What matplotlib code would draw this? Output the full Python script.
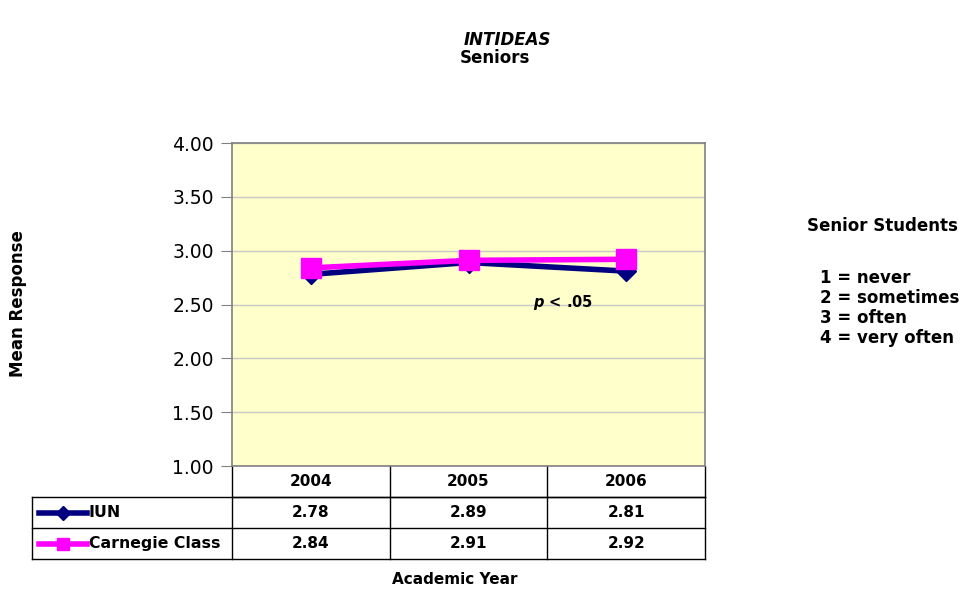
import numpy as np
import matplotlib
matplotlib.use("Agg")
import matplotlib.pyplot as plt
from matplotlib.lines import Line2D
from matplotlib.transforms import blended_transform_factory

years = ["2004", "2005", "2006"]
iun = [2.78, 2.89, 2.81]
carnegie = [2.84, 2.91, 2.92]
series_names = ["IUN", "Carnegie Class"]
yticks = [1.00, 1.50, 2.00, 2.50, 3.00, 3.50, 4.00]
scale_lines = ["1 = never", "2 = sometimes", "3 = often", "4 = very often"]

navy = "#000080"
magenta = "#FF00FF"
font = "DejaVu Sans"

W, H = 966, 589
fig = plt.figure(figsize=(W / 100, H / 100), dpi=100)
fig.patch.set_facecolor("white")

# plot area in pixels
L, R, T, B = 232, 705, 143, 466
ax = fig.add_axes([L / W, 1 - B / H, (R - L) / W, (B - T) / H])
ax.set_facecolor("#FFFFCC")
ax.set_xlim(-0.5, 2.5)
ax.set_ylim(1, 4)
ax.set_yticks(yticks)
ax.set_yticklabels(["%.2f" % v for v in yticks], fontsize=13.5, family=font)
ax.set_xticks([])
ax.grid(axis="y", color="#c8c8c8", lw=1)
ax.set_axisbelow(True)
for s in ax.spines.values():
    s.set_color("#808080")
    s.set_linewidth(1.2)
ax.tick_params(axis="y", length=8, color="#808080", pad=5)

x = np.arange(len(years))
ax.plot(x, iun, color=navy, lw=4, marker="D", ms=10, zorder=3)
ax.plot(x, carnegie, color=magenta, lw=4, marker="s", ms=14, zorder=4)

ax.text(1.6, 2.52, r"$\bfit{p}$ < .05", fontsize=10.5, fontweight="bold",
        family=font, ha="center", va="center")

# data table under the plot
tr = blended_transform_factory(ax.transData, ax.transAxes)
unit = (R - L) / 3.0
xl = -0.5 - (L - 32) / unit
rh = 31 / (B - T)
kw = dict(transform=tr, color="black", lw=1, clip_on=False)
ax.add_line(Line2D([-0.5, 2.5], [-rh, -rh], **kw))
ax.add_line(Line2D([xl, 2.5], [-rh, -rh], **kw))
ax.add_line(Line2D([xl, 2.5], [-2 * rh, -2 * rh], **kw))
ax.add_line(Line2D([xl, 2.5], [-3 * rh, -3 * rh], **kw))
ax.add_line(Line2D([xl, xl], [-rh, -3 * rh], **kw))
for xv in [-0.5, 0.5, 1.5, 2.5]:
    ax.add_line(Line2D([xv, xv], [0, -3 * rh], **kw))

tk = dict(transform=tr, ha="center", va="center", fontsize=11,
          fontweight="bold", family=font)
for i, yr in enumerate(years):
    ax.text(i, -0.5 * rh, yr, **tk)
    ax.text(i, -1.5 * rh, "%.2f" % iun[i], **tk)
    ax.text(i, -2.5 * rh, "%.2f" % carnegie[i], **tk)

# legend keys in the row labels
kx0 = -0.5 - (L - 39) / unit
kx1 = -0.5 - (L - 87) / unit
for j, (col, mk, ms) in enumerate([(navy, "D", 7), (magenta, "s", 9)]):
    yy = -(j + 1.5) * rh
    ax.add_line(Line2D([kx0, kx1], [yy, yy], transform=tr, color=col, lw=4, clip_on=False))
    ax.add_line(Line2D([(kx0 + kx1) / 2], [yy], transform=tr, color=col, marker=mk,
                       ms=ms, clip_on=False))
    ax.text(kx1 + 0.01, yy, series_names[j], transform=tr, ha="left", va="center",
            fontsize=11.3, fontweight="bold", family=font)

# titles and labels
fig.text(507 / W, 1 - 40 / H, "INTIDEAS", ha="center", va="center", fontsize=12,
         fontweight="bold", style="italic", family=font)
fig.text(495 / W, 1 - 58 / H, "Seniors", ha="center", va="center", fontsize=12,
         fontweight="bold", family=font)
fig.text(18 / W, 1 - 304 / H, "Mean Response", rotation=90, ha="center", va="center",
         fontsize=12, fontweight="bold", family=font)
fig.text(455 / W, 1 - 579 / H, "Academic Year", ha="center", va="center",
         fontsize=11, fontweight="bold", family=font)

fig.text(807 / W, 1 - 226 / H, "Senior Students", ha="left", va="center",
         fontsize=12, fontweight="bold", family=font)
for k, s in enumerate(scale_lines):
    fig.text(820 / W, 1 - (278 + 20 * k) / H, s, ha="left", va="center",
             fontsize=12, fontweight="bold", family=font)

fig.savefig("out.png", dpi=100)
